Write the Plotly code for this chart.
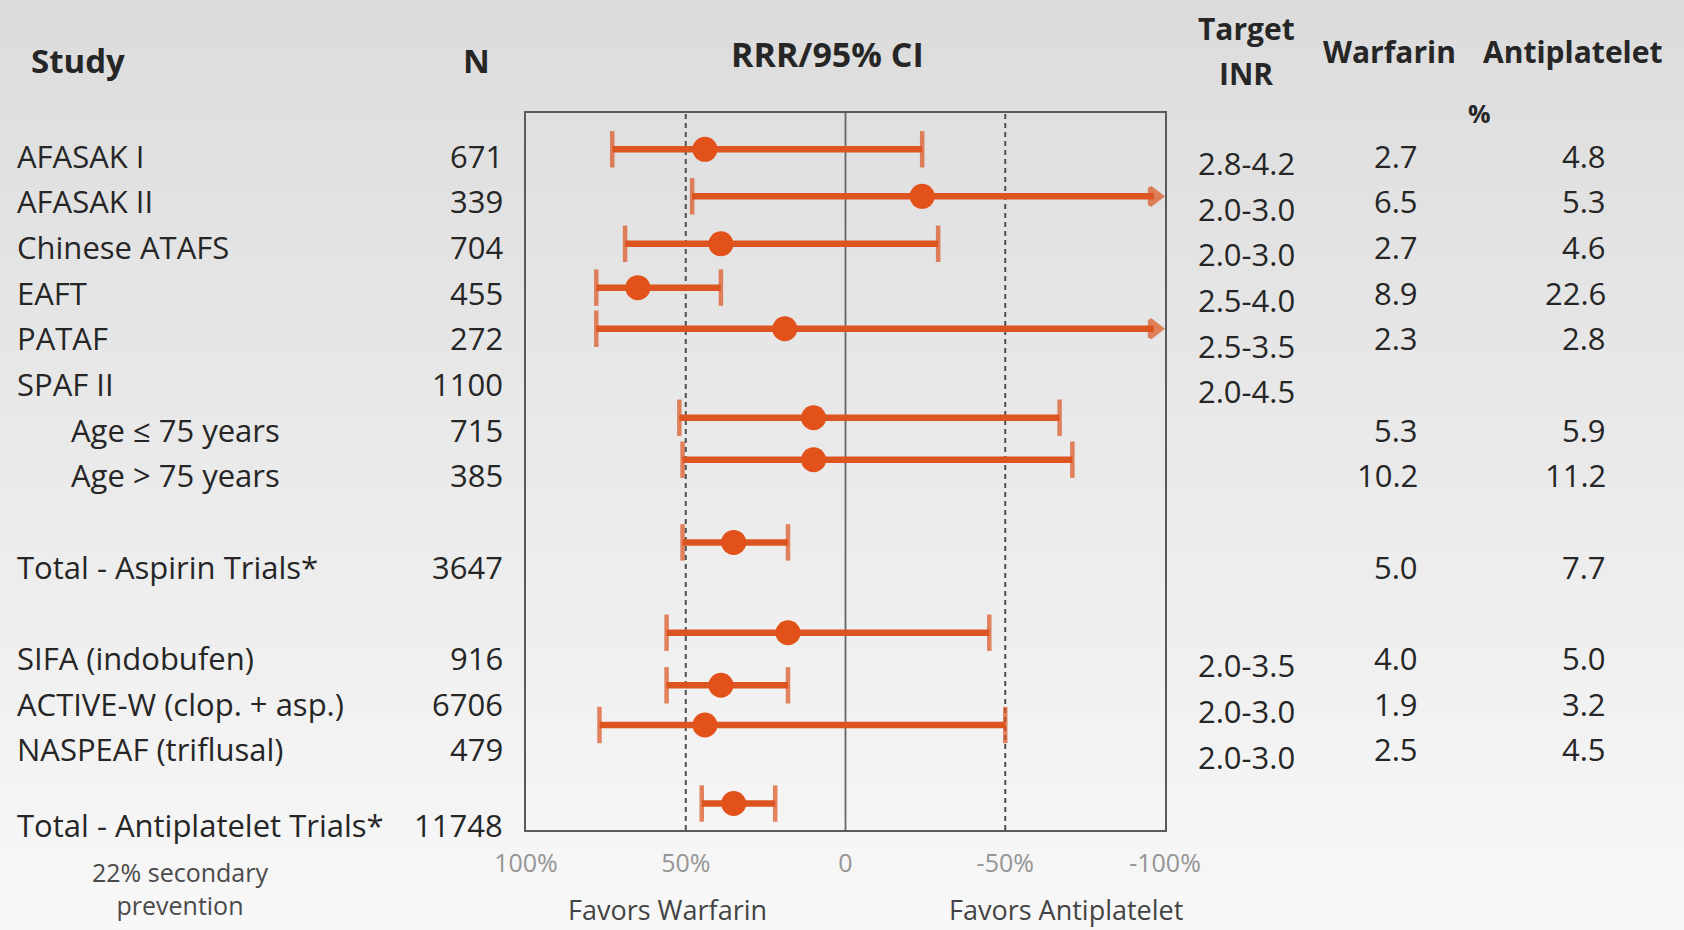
import zlib, struct, base64
import plotly.graph_objects as go

W, H = 1684, 930

# ---------------- data ----------------
studies = ["AFASAK I", "AFASAK II", "Chinese ATAFS", "EAFT", "PATAF", "SPAF II",
           "Age ≤ 75 years", "Age > 75 years", "Total - Aspirin Trials*",
           "SIFA (indobufen)", "ACTIVE-W (clop. + asp.)", "NASPEAF (triflusal)",
           "Total - Antiplatelet Trials*"]
n_patients = ["671", "339", "704", "455", "272", "1100", "715", "385", "3647",
              "916", "6706", "479", "11748"]
target_inr = ["2.8-4.2", "2.0-3.0", "2.0-3.0", "2.5-4.0", "2.5-3.5", "2.0-4.5",
              "", "", "", "2.0-3.5", "2.0-3.0", "2.0-3.0", ""]
warfarin_rate = ["2.7", "6.5", "2.7", "8.9", "2.3", "", "5.3", "10.2", "5.0",
                 "4.0", "1.9", "2.5", "3.1"]
antiplatelet_rate = ["4.8", "5.3", "4.6", "22.6", "2.8", "", "5.9", "11.2", "7.7",
                     "5.0", "3.2", "4.5", "4.8"]
# relative risk reduction (%) and 95% CI; None in ci_anti = CI runs beyond -100% (arrow)
rrr = [44, -24, 39, 65, 19, None, 10, 10, 35, 18, 39, 44, 35]
ci_warf = [73, 48, 69, 78, 78, None, 52, 51, 51, 56, 56, 77, 45]
ci_anti = [-24, None, -29, 39, None, None, -67, -71, 18, -45, 18, -50, 22]
has_ci = [True, True, True, True, True, False, True, True, True, True, True, True, True]

tick_vals = [100, 50, 0, -50, -100]
tick_text = ["100%", "50%", "0", "-50%", "-100%"]
ref_lines = [50, -50]

# ---------------- layout positions (row units) ----------------
text_row = [0, 1, 2, 3, 4, 5, 6, 7, 9, 11, 12, 13, 14.66]
rate_row = [0, 1, 2, 3, 4, 5, 6, 7, 9, 11, 12, 13, 15.0]
ci_row = [-0.14, 0.89, 1.93, 2.89, 3.79, None, 5.74, 6.66, 8.47, 10.45, 11.60, 12.47, 14.19]
indent = [0, 0, 0, 0, 0, 0, 1, 1, 0, 0, 0, 0, 0]
Y_RANGE = [14.77, -0.935]
X_RANGE = [100, -100]

ORANGE = "#dc5420"
DOT = "#e2511a"
TXT = "#262626"
FONT = "Open Sans"
BODY = 31


def px(x):
    return x / W


def py(y):
    return 1 - y / H


def gradient_png(top, bottom, h=256):
    raw = b""
    for i in range(h):
        v = round(top + (bottom - top) * i / (h - 1))
        raw += b"\x00" + bytes([v, v, v, v, v, v])

    def chunk(tag, data):
        c = struct.pack(">I", len(data)) + tag + data
        return c + struct.pack(">I", zlib.crc32(tag + data) & 0xFFFFFFFF)

    ihdr = struct.pack(">IIBBBBB", 2, h, 8, 2, 0, 0, 0)
    png = (b"\x89PNG\r\n\x1a\n" + chunk(b"IHDR", ihdr)
           + chunk(b"IDAT", zlib.compress(raw)) + chunk(b"IEND", b""))
    return "data:image/png;base64," + base64.b64encode(png).decode()


fig = go.Figure()

# CI lines with caps / arrows
arrow_x = X_RANGE[1] + 3.5
for i in range(len(studies)):
    if not has_ci[i]:
        continue
    if ci_anti[i] is None:
        xs = [ci_warf[i], arrow_x]
        sym = ["line-ns", "triangle-right"]
        sz = [26, 15]
    else:
        xs = [ci_warf[i], ci_anti[i]]
        sym = ["line-ns", "line-ns"]
        sz = [26, 26]
    fig.add_trace(go.Scatter(
        x=xs, y=[ci_row[i], ci_row[i]], mode="lines+markers",
        line=dict(color=ORANGE, width=6.5),
        marker=dict(symbol=sym, size=sz, color=ORANGE,
                    line=dict(color=ORANGE, width=4.5)),
        cliponaxis=False, showlegend=False, hoverinfo="skip"))

# point estimates
pts = [i for i in range(len(studies)) if rrr[i] is not None]
fig.add_trace(go.Scatter(
    x=[rrr[i] for i in pts], y=[ci_row[i] for i in pts], mode="markers",
    marker=dict(symbol="circle", size=25, color=DOT),
    text=[studies[i] for i in pts], cliponaxis=False, showlegend=False,
    hovertemplate="%{text}: RRR %{x}%<extra></extra>"))

shapes = [dict(type="line", xref="x", yref="y domain", x0=0, x1=0, y0=0, y1=1,
               line=dict(color="#666666", width=1.8), layer="below")]
for v in ref_lines:
    shapes.append(dict(type="line", xref="x", yref="y domain", x0=v, x1=v, y0=0, y1=1,
                       line=dict(color="#4f4f4f", width=2, dash="5px,4px"), layer="below"))

ann = []


def add(text, x, y, xref="paper", yref="y", size=BODY, color=TXT, bold=False,
        xanchor="left", align="left"):
    ann.append(dict(text=f"<b>{text}</b>" if bold else text, x=x, y=y, xref=xref, yref=yref,
                    xanchor=xanchor, yanchor="middle", showarrow=False, align=align,
                    font=dict(family=FONT, size=size, color=color)))


# headers
add("Study", px(29), py(61), yref="paper", bold=True, size=33)
add("N", px(476), py(61), yref="paper", bold=True, xanchor="center", size=33)
add("RRR/95% CI", px(827), py(54), yref="paper", bold=True, xanchor="center", size=34)
add("Target", px(1246), py(29), yref="paper", bold=True, xanchor="center", size=30)
add("INR", px(1246), py(73), yref="paper", bold=True, xanchor="center", size=30)
add("Warfarin", px(1389), py(52), yref="paper", bold=True, xanchor="center", size=30)
add("Antiplatelet", px(1573), py(52), yref="paper", bold=True, xanchor="center", size=30)
add("%", px(1479), py(113), yref="paper", bold=True, xanchor="center", size=25)

# rows
for i, s in enumerate(studies):
    add(s, px(69 if indent[i] else 15), text_row[i])
    add(n_patients[i], px(505), text_row[i], xanchor="right")
    if target_inr[i]:
        add(target_inr[i], px(1246), text_row[i] + 0.16, xanchor="center")
    if warfarin_rate[i]:
        add(warfarin_rate[i], px(1420), rate_row[i], xanchor="right")
    if antiplatelet_rate[i]:
        add(antiplatelet_rate[i], px(1608), rate_row[i], xanchor="right")

add("22% secondary<br>prevention", px(180), py(888), yref="paper", size=25,
    color="#4a4a4a", xanchor="center", align="center")
add("Favors Warfarin", px(667), py(909), yref="paper", size=27, color="#444444",
    xanchor="center")
add("Favors Antiplatelet", px(1066), py(909), yref="paper", size=27, color="#444444",
    xanchor="center")

fig.update_layout(
    width=W, height=H, autosize=False,
    margin=dict(l=0, r=0, t=0, b=0, pad=0, autoexpand=False),
    paper_bgcolor="#ebebeb", plot_bgcolor="rgba(0,0,0,0)",
    images=[dict(source=gradient_png(0xDC, 0xF8), xref="paper", yref="paper",
                 x=0, y=1, sizex=1, sizey=1, sizing="stretch", layer="below",
                 xanchor="left", yanchor="top")],
    xaxis=dict(domain=[px(526), px(1165)], range=X_RANGE, tickvals=tick_vals,
               ticktext=tick_text, ticks="", showgrid=False, zeroline=False,
               showline=True, mirror=True, linecolor="#5a5a5a", linewidth=2,
               tickfont=dict(family=FONT, size=25, color="#959595"),
               ticklabelstandoff=10, automargin=False, fixedrange=True),
    yaxis=dict(domain=[py(830), py(113)], range=Y_RANGE, showticklabels=False,
               ticks="", showgrid=False, zeroline=False, showline=True, mirror=True,
               linecolor="#5a5a5a", linewidth=2, automargin=False, fixedrange=True),
    shapes=shapes, annotations=ann, showlegend=False,
)

fig.write_html("out.html", config={"displayModeBar": False},
               post_script="document.body.style.margin='0';document.body.style.overflow='hidden';")
